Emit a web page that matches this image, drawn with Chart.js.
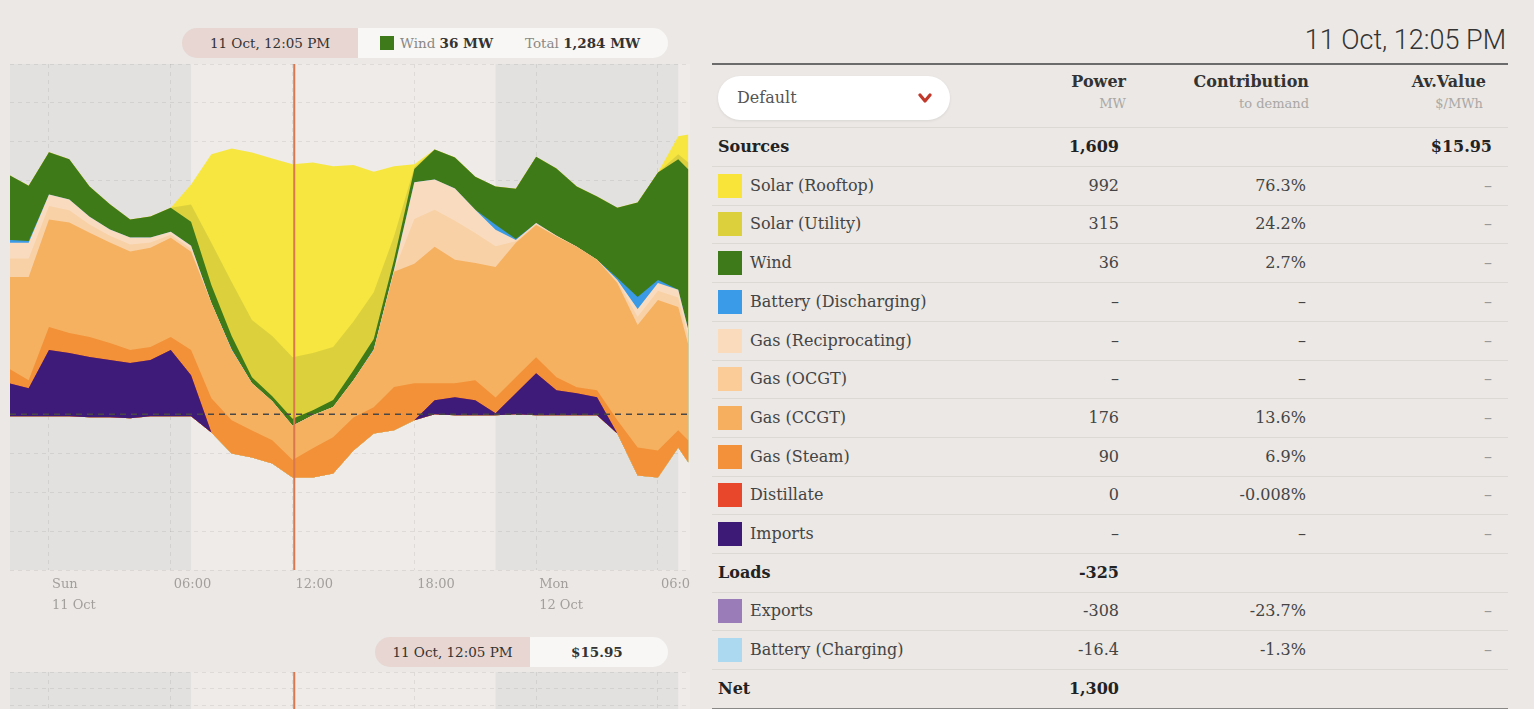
<!DOCTYPE html>
<html>
<head>
<meta charset="utf-8">
<script src="https://cdn.jsdelivr.net/npm/chart.js@4.4.1/dist/chart.umd.min.js"></script>
<style>
  html, body { margin: 0; padding: 0; }
  body { width: 1534px; height: 709px; overflow: hidden; position: relative; background: #ebe8e5; font-family: "DejaVu Serif", serif; color: #333; }
  .abs { position: absolute; }
  #main { position: absolute; left: 10px; top: 64px; width: 680px; height: 556px; }
  #price { position: absolute; left: 10px; top: 672px; width: 680px; height: 200px; }
  .pill { position: absolute; display: flex; height: 30px; line-height: 30px; font-size: 13.5px; }
  .pill .when { background: #e7d6d1; text-align: center; border-radius: 15px 0 0 15px; }
  .pill .what { background: #f8f7f5; border-radius: 0 15px 15px 0; position: relative; }
  .muted { color: #8a8784; }
  #title { position: absolute; right: 28px; top: 24px; font-family: Roboto, sans-serif; font-weight: 300; font-size: 27px; color: #333; }
  #rule { position: absolute; left: 712px; top: 63px; width: 796px; height: 2px; background: #6b6b6b; }
  #picker { position: absolute; left: 718px; top: 76px; width: 232px; height: 44px; border-radius: 22px; background: #fff; box-shadow: 0 1px 3px rgba(0,0,0,0.08); font-size: 16px; line-height: 44px; color: #555; }
  .hd { position: absolute; font-weight: bold; font-size: 16px; color: #333; text-align: right; }
  .sub { position: absolute; font-size: 13px; color: #aaa7a4; text-align: right; }
  .row { position: absolute; left: 712px; width: 796px; height: 38px; line-height: 38px; border-bottom: 1px solid #dcd9d5; font-size: 16px; color: #444; }
  .row span { position: absolute; }
  .row .sw { left: 6px; top: 7px; width: 24px; height: 24px; }
  .row .nm { left: 38px; }
  .row .pw { right: 389px; }
  .row .ct { right: 202px; }
  .row .av { right: 16px; color: #999; }
  .row.bold { font-weight: bold; color: #222; }
  .row.bold .nm { left: 6px; }
  .row.bold .av { color: #222; }
</style>
</head>
<body>

<div class="pill" style="left:182px; top:28px;">
  <div class="when" style="width:176px;">11 Oct, 12:05 PM</div>
  <div class="what" style="width:310px;">
    <span class="abs" style="left:22px; top:8px; width:14px; height:14px; background:#3f7a1a;"></span>
    <span class="abs" style="left:42px;"><span class="muted">Wind</span> <b>36 MW</b></span>
    <span class="abs" style="left:167px;"><span class="muted">Total</span> <b>1,284 MW</b></span>
  </div>
</div>

<div id="main"><canvas id="genChart"></canvas></div>

<div class="pill" style="left:375px; top:637px;">
  <div class="when" style="width:155px;">11 Oct, 12:05 PM</div>
  <div class="what" style="width:138px;"><b style="position:absolute; left:41px;">$15.95</b></div>
</div>

<div id="price"><canvas id="priceChart"></canvas></div>

<div id="title">11 Oct, 12:05 PM</div>
<div id="rule"></div>
<div id="picker"><span style="padding-left:19px;">Default</span>
  <svg class="abs" style="left:200px; top:16px;" width="14" height="12" viewBox="0 0 14 12"><polyline points="2,3 7,9 12,3" fill="none" stroke="#c0392b" stroke-width="3.2" stroke-linecap="round" stroke-linejoin="round"/></svg>
</div>
<div class="hd" style="right:408px; top:72px;">Power</div>
<div class="sub" style="right:408px; top:96px;">MW</div>
<div class="hd" style="right:225px; top:72px;">Contribution</div>
<div class="sub" style="right:225px; top:96px;">to demand</div>
<div class="hd" style="right:48px; top:72px;">Av.Value</div>
<div class="sub" style="right:51px; top:96px;">$/MWh</div>
<div class="abs" style="left:712px; top:127px; width:796px; height:1px; background:#dcd9d5;"></div>
<div id="table"></div>

<script>
// hours from Sun 11 Oct 00:00 (negative = Sat evening, 24+ = Mon)
const hours = [-2, -1, 0, 1, 2, 3, 4, 5, 6, 7, 8, 9, 10, 11, 12, 13, 14, 15, 16, 17, 18, 19, 20, 21, 22, 23, 24, 25, 26, 27, 28, 29, 30, 31, 31.5];

// MW, loads negative
const exportsMW = [-10, -10, -10, -10, -15, -15, -20, -10, -10, -10, -93, -191, -207, -238, -308, -310, -294, -181, -98, -82, -31, 0, -5, -5, -5, 0, -5, -5, -5, -5, -98, -304, -315, -170, -247];
const chargingMW = [0, 0, 0, 0, 0, 0, 0, 0, 0, 0, 0, -10, -15, -15, -16.4, -15, -10, -5, 0, 0, 0, 0, 0, 0, 0, 0, 0, 0, 0, 0, 0, -10, -10, 0, 0];
const importsMW = [170, 144, 340, 325, 309, 294, 284, 289, 340, 211, 0, 0, 0, 0, 0, 0, 0, 0, 0, 0, 0, 72, 93, 77, 10, 108, 216, 129, 113, 93, 0, 0, 0, 0, 0];
const distillateMW = [0, 0, 0, 0, 0, 0, 0, 0, 0, 0, 0, 0, 0, 0, 0, 0, 0, 0, 0, 0, 0, 0, 0, 0, 0, 0, 0, 0, 0, 0, 0, 0, 0, 0, 0];
const steamMW = [77, 41, 119, 103, 103, 88, 67, 67, 67, 129, 175, 170, 139, 120, 90, 150, 186, 170, 134, 222, 191, 88, 72, 103, 82, 82, 82, 67, 31, 36, 67, 144, 139, 88, 113];
const ccgtMW = [469, 531, 552, 567, 536, 516, 505, 510, 510, 505, 490, 361, 242, 200, 176, 170, 155, 191, 294, 593, 613, 701, 634, 603, 670, 691, 680, 722, 722, 670, 706, 629, 773, 634, 490];
const ocgtMW = [95, 95, 69, 64, 42, 35, 37, 27, 16, 16, 0, 0, 0, 0, 0, 0, 0, 0, 0, 5, 230, 190, 201, 153, 106, 8, 5, 5, 0, 0, 10, 42, 48, 48, 42];
const recipMW = [80, 80, 60, 55, 40, 32, 35, 25, 15, 15, 0, 0, 0, 0, 0, 0, 0, 0, 0, 5, 190, 155, 165, 120, 85, 7, 5, 0, 0, 0, 5, 40, 40, 40, 35];
const batteryMW = [15, 10, 0, 0, 0, 0, 0, 0, 0, 0, 0, 5, 0, 0, 0, 0, 0, 0, 5, 0, 0, 0, 0, 0, 26, 5, 0, 0, 0, 0, 10, 62, 15, 0, 0];
const windMW = [335, 284, 217, 206, 155, 129, 93, 108, 124, 124, 93, 67, 31, 26, 36, 26, 36, 52, 52, 52, 67, 155, 160, 170, 196, 258, 340, 345, 309, 325, 361, 485, 552, 670, 825];
const utilityMW = [0, 0, 0, 0, 0, 0, 0, 0, 0, 88, 217, 278, 294, 309, 315, 294, 273, 250, 240, 120, 10, 0, 0, 0, 0, 0, 0, 0, 0, 0, 0, 0, 0, 26, 36];
const rooftopMW = [0, 0, 0, 0, 0, 0, 0, 0, 0, 103, 454, 686, 861, 912, 992, 979, 928, 804, 619, 359, 15, 0, 0, 0, 0, 0, 0, 0, 0, 0, 0, 0, 0, 93, 144];

const tickHours = [0, 6, 12, 18, 24, 30];
const tickLabels = [['Sun', '11 Oct'], '06:00', '12:00', '18:00', ['Mon', '12 Oct'], '06:00'];
const nightBands = [[-2, 7], [22, 31]];
const cursorHour = 12 + 5 / 60;
const viewStart = -1.92, viewEnd = 31.58;

// table at cursor
const rowNames = ['Solar (Rooftop)', 'Solar (Utility)', 'Wind', 'Battery (Discharging)', 'Gas (Reciprocating)', 'Gas (OCGT)', 'Gas (CCGT)', 'Gas (Steam)', 'Distillate', 'Imports'];
const rowColors = ['#f9e43a', '#dcd13c', '#3f7a1a', '#3a9be9', '#fadcbc', '#fbcc98', '#f5af5e', '#f2913a', '#e9472c', '#3c1a76'];
const rowPower = ['992', '315', '36', '–', '–', '–', '176', '90', '0', '–'];
const rowContribution = ['76.3%', '24.2%', '2.7%', '–', '–', '–', '13.6%', '6.9%', '-0.008%', '–'];
const loadNames = ['Exports', 'Battery (Charging)'];
const loadColors = ['#9a7cb8', '#acd9f0'];
const loadPower = ['-308', '-16.4'];
const loadContribution = ['-23.7%', '-1.3%'];

const layers = [
    { label: 'Exports', data: exportsMW, color: 'rgba(0,0,0,0)' },
    { label: 'Battery (Charging)', data: chargingMW, color: 'rgba(0,0,0,0)' },
    { label: 'Imports', data: importsMW, color: '#3e1b78' },
    { label: 'Distillate', data: distillateMW, color: '#e8462b' },
    { label: 'Gas (Steam)', data: steamMW, color: '#f29137' },
    { label: 'Gas (CCGT)', data: ccgtMW, color: '#f5b060' },
    { label: 'Gas (OCGT)', data: ocgtMW, color: '#f8d1a6' },
    { label: 'Gas (Reciprocating)', data: recipMW, color: '#f9dcbf' },
    { label: 'Battery (Discharging)', data: batteryMW, color: '#3a9ae6' },
    { label: 'Wind', data: windMW, color: '#3f7a18' },
    { label: 'Solar (Utility)', data: utilityMW, color: '#dcd13d' },
    { label: 'Solar (Rooftop)', data: rooftopMW, color: '#f7e640' }
]

const shade = {
    id: 'shade',
    beforeDraw(chart) {
        const { ctx, chartArea: a, scales: { x } } = chart
        ctx.save()
        ctx.fillStyle = '#eeebe9'
        ctx.fillRect(a.left, a.top, a.width, a.height)
        ctx.fillStyle = '#e3e1df'
        nightBands.forEach(([s, e]) => {
            const x0 = Math.max(a.left, x.getPixelForValue(s))
            const x1 = Math.min(a.right, x.getPixelForValue(e))
            ctx.fillRect(x0, a.top, x1 - x0, a.height)
        })
        ctx.restore()
    },
    afterDatasetsDraw(chart, args, opts) {
        const { ctx, chartArea: a, scales: { x, y } } = chart
        ctx.save()
        if (opts.zeroLine) {
            const y0 = y.getPixelForValue(0)
            ctx.setLineDash([6, 5])
            ctx.strokeStyle = '#4a4846'
            ctx.lineWidth = 1.5
            ctx.beginPath()
            ctx.moveTo(a.left, y0)
            ctx.lineTo(a.right, y0)
            ctx.stroke()
        }
        const cx = x.getPixelForValue(cursorHour)
        ctx.setLineDash([])
        ctx.strokeStyle = '#d9774e'
        ctx.lineWidth = 2
        ctx.beginPath()
        ctx.moveTo(cx, a.top)
        ctx.lineTo(cx, a.bottom)
        ctx.stroke()
        ctx.restore()
    }
}

function timeAxis(showLabels) {
    return {
        type: 'linear',
        min: viewStart,
        max: viewEnd,
        afterBuildTicks: s => { s.ticks = tickHours.map(v => ({ value: v })) },
        afterFit: s => { s.paddingLeft = 0; s.paddingRight = 0; if (!showLabels) s.height = 0; else s.height = 50 },
        grid: { color: 'rgba(0,0,0,0.07)', drawTicks: false },
        border: { display: false, dash: [4, 4] },
        ticks: {
            display: showLabels,
            callback: (v) => tickLabels[tickHours.indexOf(v)],
            align: 'start',
            labelOffset: 3,
            padding: 4,
            maxRotation: 0,
            autoSkip: false,
            color: '#a29f9c',
            font: { family: 'DejaVu Serif', size: 13, lineHeight: 1.6 }
        }
    }
}

new Chart(document.getElementById('genChart'), {
    type: 'line',
    data: {
        datasets: layers.map((l, i) => ({
            label: l.label,
            data: hours.map((h, k) => ({ x: h, y: l.data[k] })),
            backgroundColor: l.color,
            borderColor: 'rgba(0,0,0,0)',
            borderWidth: 0,
            pointRadius: 0,
            tension: 0,
            fill: i < 2 ? false : 1
        }))
    },
    options: {
        responsive: true,
        maintainAspectRatio: false,
        animation: false,
        layout: { padding: 0 },
        plugins: { legend: { display: false }, tooltip: { enabled: false }, shade: { zeroLine: true } },
        scales: {
            x: timeAxis(true),
            y: {
                stacked: 'single',
                min: -800,
                max: 1800,
                afterFit: s => { s.width = 0 },
                ticks: { display: false, stepSize: 200 },
                grid: { color: 'rgba(0,0,0,0.07)', drawTicks: false },
                border: { display: false, dash: [4, 4] }
            }
        }
    },
    plugins: [shade]
})

new Chart(document.getElementById('priceChart'), {
    type: 'line',
    data: { datasets: [{ label: 'Price', data: [] }] },
    options: {
        responsive: true,
        maintainAspectRatio: false,
        animation: false,
        layout: { padding: 0 },
        plugins: { legend: { display: false }, tooltip: { enabled: false }, shade: { zeroLine: false } },
        scales: {
            x: timeAxis(false),
            y: {
                min: 0,
                max: 300,
                afterFit: s => { s.width = 0 },
                ticks: { display: false, stepSize: 25 },
                grid: { color: 'rgba(0,0,0,0.07)', drawTicks: false },
                border: { display: false, dash: [4, 4] }
            }
        }
    },
    plugins: [shade]
})

// right-hand table
const rows = []
rows.push({ bold: true, name: 'Sources', power: '1,609', contribution: '', av: '$15.95' })
rowNames.forEach((n, i) => rows.push({ name: n, color: rowColors[i], power: rowPower[i], contribution: rowContribution[i], av: '–' }))
rows.push({ bold: true, name: 'Loads', power: '-325', contribution: '', av: '' })
loadNames.forEach((n, i) => rows.push({ name: n, color: loadColors[i], power: loadPower[i], contribution: loadContribution[i], av: '–' }))
rows.push({ bold: true, name: 'Net', power: '1,300', contribution: '', av: '', last: true })

rows.forEach((r, i) => {
    const style = `top:${128 + i * 38.7}px;` + (r.last ? 'border-bottom:2px solid #8a8886;' : '')
    const html = `
    <div class="row${r.bold ? ' bold' : ''}" style="${style}">
        ${r.color ? `<span class="sw" style="background:${r.color}"></span>` : ''}
        <span class="nm">${r.name}</span>
        <span class="pw">${r.power}</span>
        <span class="ct">${r.contribution}</span>
        <span class="av">${r.av}</span>
    </div>`
    document.getElementById('table').insertAdjacentHTML('beforeend', html)
})
</script>
</body>
</html>
